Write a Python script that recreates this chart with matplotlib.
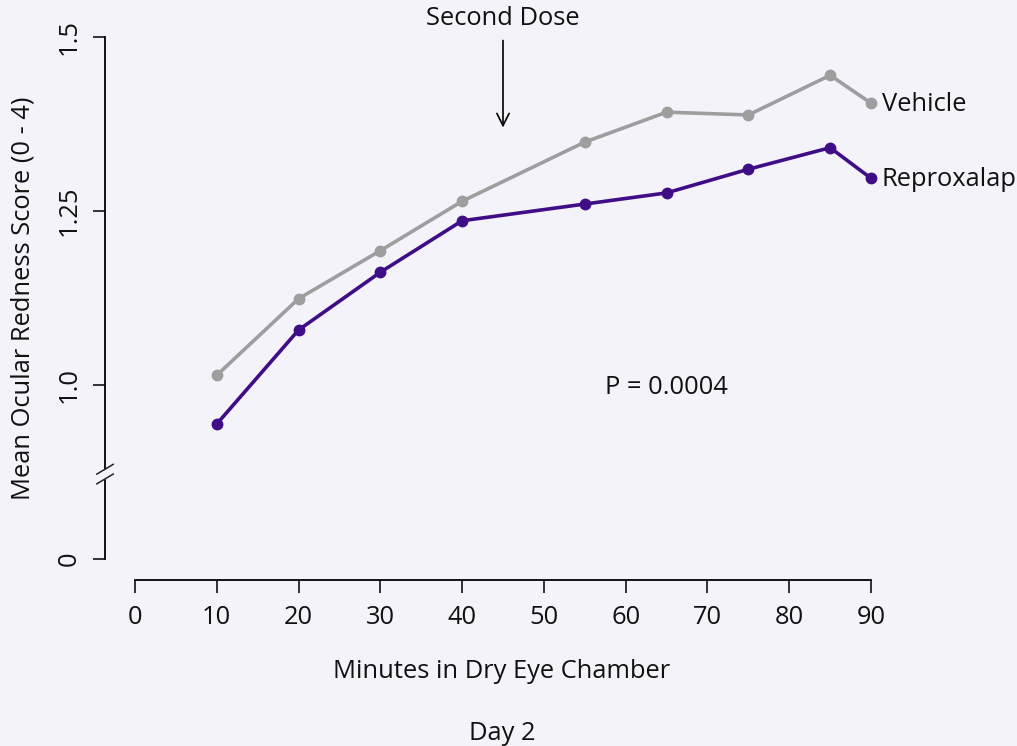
import matplotlib
matplotlib.use("Agg")
import matplotlib.pyplot as plt

plt.rcParams['font.family'] = ['Open Sans', 'DejaVu Sans']

minutes = [10, 20, 30, 40, 55, 65, 75, 85, 90]
vehicle = [1.014, 1.124, 1.193, 1.264, 1.349, 1.392, 1.388, 1.445, 1.405]
reproxalap = [0.944, 1.079, 1.162, 1.236, 1.260, 1.276, 1.310, 1.341, 1.297]

x_ticks = [0, 10, 20, 30, 40, 50, 60, 70, 80, 90]
# the "0" label sits at 0.75 on the drawn scale (axis is broken)
y_tick_pos = [0.75, 1.0, 1.25, 1.5]
y_tick_labels = ["0", "1.0", "1.25", "1.5"]

bg = '#f5f3fa'
gray = '#9e9e9e'
purple = '#3f0d85'
fs = 18.4

W, H = 1017, 746
fig = plt.figure(figsize=(W / 100, H / 100), dpi=100, facecolor=bg)
# axes box in pixels: left spine at x=105, right edge at x=90 (px 871), bottom at px 580, top at px 37
left, right, top, bottom = 105, 871, 37, 580
ax = fig.add_axes([left / W, 1 - bottom / H, (right - left) / W, (bottom - top) / H])
ax.set_facecolor(bg)

px_per_min = (871 - 135) / 90.0
px_per_unit = 174 / 0.25
ax.set_xlim(-30 / px_per_min, 90)
ax.set_ylim(1.0 - (580 - 385) / px_per_unit, 1.5)

ax.plot(minutes, vehicle, color=gray, lw=2.6, marker='o', ms=7.5, clip_on=False, zorder=3)
ax.plot(minutes, reproxalap, color=purple, lw=2.6, marker='o', ms=7.5, clip_on=False, zorder=3)

ax.annotate("Vehicle", (minutes[-1], vehicle[-1]), xytext=(7.8, -1), textcoords='offset points',
            ha='left', va='center', fontsize=fs, color='#111111', annotation_clip=False)
ax.annotate("Reproxalap", (minutes[-1], reproxalap[-1]), xytext=(7.8, -1), textcoords='offset points',
            ha='left', va='center', fontsize=fs, color='#111111', annotation_clip=False)

ax.annotate("", xy=(45, 1.366), xytext=(45, 1.499),
            arrowprops=dict(arrowstyle='->', color='black', lw=1.2, mutation_scale=22),
            annotation_clip=False)
ax.text(45, 1.526, "Second Dose", ha='center', va='center', fontsize=fs, color='#111111')
ax.text(65, 0.996, "P = 0.0004", ha='center', va='center', fontsize=fs, color='#111111')

for s in ['top', 'right']:
    ax.spines[s].set_visible(False)
ax.spines['left'].set_bounds(0.75, 1.5)
ax.spines['bottom'].set_bounds(0, 90)
ax.spines['left'].set_linewidth(1.3)
ax.spines['bottom'].set_linewidth(1.3)

ax.set_xticks(x_ticks)
ax.set_xticklabels([str(t) for t in x_ticks], fontsize=fs)
ax.set_yticks(y_tick_pos)
ax.set_yticklabels(y_tick_labels, fontsize=fs, rotation=90, va='center')
ax.tick_params(axis='both', length=9, width=1.3, color='#222222', labelcolor='#111111')
ax.tick_params(axis='x', pad=9)
ax.tick_params(axis='y', pad=8)

# axis break marks
brk_y = 0.876
x0 = -30 / px_per_min
ax.plot([x0 - 1.0, x0 + 1.0], [brk_y - 0.012, brk_y + 0.002], color=bg, lw=6,
        clip_on=False, zorder=4, solid_capstyle='butt')
for dy in (-0.012, 0.002):
    ax.plot([x0 - 1.0, x0 + 1.0], [brk_y + dy - 0.006, brk_y + dy + 0.008],
            color='#222222', lw=1.1, clip_on=False, zorder=5)

fig.text(23 / W, 1 - 298 / H, "Mean Ocular Redness Score (0 - 4)", rotation=90,
         ha='center', va='center', fontsize=fs, color='#111111')
fig.text(502 / W, 1 - 671 / H, "Minutes in Dry Eye Chamber", ha='center', va='center',
         fontsize=fs, color='#111111')
fig.text(502 / W, 1 - 733 / H, "Day 2", ha='center', va='center', fontsize=fs, color='#111111')

fig.savefig("out.png", dpi=100, facecolor=bg)
